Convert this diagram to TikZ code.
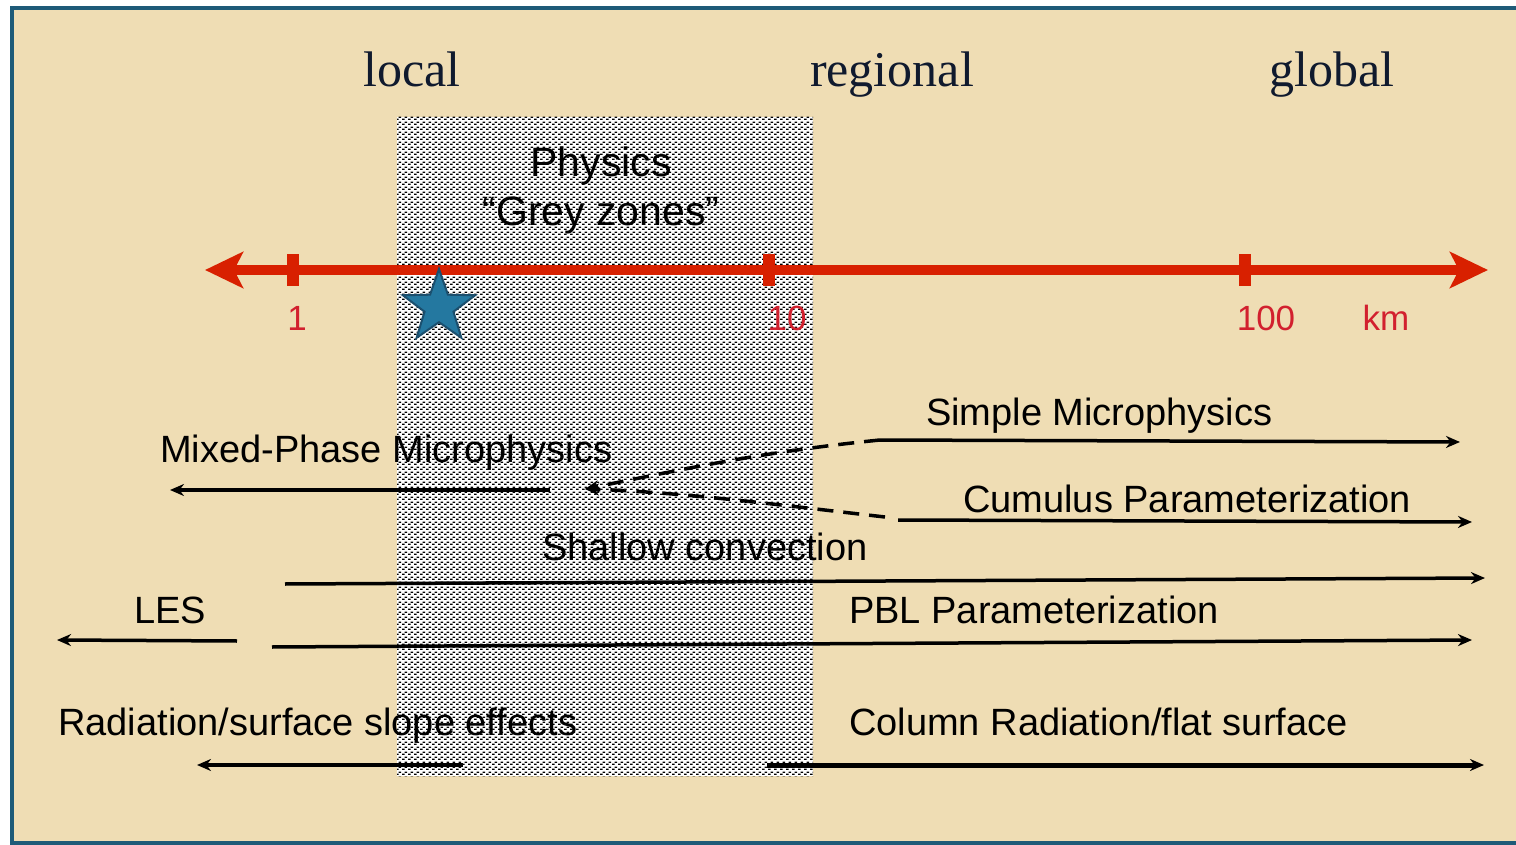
\documentclass[tikz,border=0pt]{standalone}
\usepackage{fontspec}
\setmainfont{Liberation Sans}
\newfontfamily\titleserif{Liberation Serif}
\usetikzlibrary{arrows.meta,shapes.geometric,patterns}
\pgfdeclarepatternformonly{zonedots}{\pgfpointorigin}{\pgfpoint{6pt}{5pt}}{\pgfpoint{6pt}{5pt}}{%
  \pgfpathrectangle{\pgfpoint{0pt}{0pt}}{\pgfpoint{3pt}{1.5pt}}%
  \pgfpathrectangle{\pgfpoint{3pt}{2.5pt}}{\pgfpoint{3pt}{1.5pt}}%
  \pgfusepath{fill}}
\definecolor{parchment}{HTML}{EFDDB4}
\definecolor{frame}{HTML}{1E5B78}
\definecolor{axisred}{HTML}{D82000}
\definecolor{labelred}{HTML}{D2202E}
\definecolor{starblue}{HTML}{2478A0}
\definecolor{stardark}{HTML}{1B4F6E}
\definecolor{navy}{HTML}{101A2E}
\tikzset{
  lbl/.style={font=\fontsize{38}{44}\selectfont, inner sep=0, anchor=base west, text=black},
  numlbl/.style={font=\fontsize{35}{40}\selectfont, text=labelred, inner sep=0, anchor=base},
  scalelbl/.style={font=\titleserif\fontsize{50}{56}\selectfont, text=navy, inner sep=0, anchor=base},
  zonelbl/.style={font=\fontsize{41}{46}\selectfont, text=black, inner sep=0, anchor=base},
  tickmark/.style={fill=axisred, draw=none, minimum width=12pt, minimum height=32pt, inner sep=0},
  axisline/.style={line width=10pt, draw=axisred, {Stealth[length=38pt,width=36pt,inset=9pt]}-{Stealth[length=38pt,width=36pt,inset=9pt]}},
  conn/.style={line width=3.5pt, draw=black, -{Stealth[length=14pt,width=12pt]}},
  dashconn/.style={conn, dash pattern=on 16pt off 10pt},
}
\begin{document}
\begin{tikzpicture}[x=1pt,y=-1pt]
\useasboundingbox (0,0) rectangle (1516,845);
\fill[white] (0,0) rectangle (1516,845);
\fill[parchment] (12,8) rectangle (1516,843);
\draw[frame, line width=4pt] (1516,8) -- (12,8) -- (12,843) -- (1516,843);
% grey zone
\fill[white] (397,117) rectangle (813,776);
\fill[pattern=zonedots, pattern color=black] (397,117) rectangle (813,776);
% scale titles
\node[scalelbl] (local) at (412,87) {local};
\node[scalelbl] (regional) at (892,87) {regional};
\node[scalelbl] (global) at (1332,87) {global};
% zone title
\node[zonelbl] (physics) at (601,177) {Physics};
\node[zonelbl] (grey) at (601,226) {“Grey zones”};
% axis
\coordinate (ltip) at (205,270);
\coordinate (rtip) at (1488,270);
\draw[axisline] (ltip) -- (rtip);
\node[tickmark] (t1) at (293,270) {};
\node[tickmark] (t10) at (769,270) {};
\node[tickmark] (t100) at (1245,270) {};
\node[numlbl] (n1) at (297,330) {1};
\node[numlbl] (n10) at (787,330) {10};
\node[numlbl] (n100) at (1266,330) {100};
\node[numlbl] (km) at (1386,330) {km};
% star
\node[star, star points=5, star point ratio=2.5, minimum size=76pt, inner sep=0, fill=starblue, draw=stardark, line width=2pt] (star) at (439,307) {};
% labels
\node[lbl] (simple) at (926,425) {Simple Microphysics};
\node[lbl] (mixed) at (160,462) {Mixed-Phase Microphysics};
\node[lbl] (cumulus) at (963,512) {Cumulus Parameterization};
\node[lbl] (shallow) at (542,560) {Shallow convection};
\node[lbl] (les) at (134,623) {LES};
\node[lbl] (pbl) at (849,623) {PBL Parameterization};
\node[lbl] (rad) at (58,735) {Radiation/surface slope effects};
\node[lbl] (col) at (849,735) {Column Radiation/flat surface};
% connectors
\coordinate (simpleA) at (880,440);
\coordinate (simpleB) at (1460,442);
\draw[conn] (simpleA) -- (simpleB);
\coordinate (mixedA) at (550,490);
\coordinate (mixedB) at (170,490);
\draw[conn] (mixedA) -- (mixedB);
\coordinate (dashtip) at (585,489);
\coordinate (cumA) at (885,517);
\draw[dashconn] (simpleA) .. controls (760,452) and (680,470) .. (dashtip);
\draw[dashconn] (cumA) .. controls (780,505) and (680,492) .. (dashtip);
\coordinate (cumB) at (898,520);
\coordinate (cumC) at (1472,522);
\draw[conn] (cumB) -- (cumC);
\coordinate (shA) at (285,584);
\coordinate (shB) at (1485,578);
\draw[conn] (shA) -- (shB);
\coordinate (lesA) at (237,641);
\coordinate (lesB) at (57,640);
\draw[conn] (lesA) -- (lesB);
\coordinate (pblA) at (272,647);
\coordinate (pblB) at (1472,640);
\draw[conn] (pblA) -- (pblB);
\coordinate (radA) at (463,765);
\coordinate (radB) at (197,765);
\draw[conn] (radA) -- (radB);
\coordinate (colA) at (767,765);
\coordinate (colB) at (1484,765);
\draw[conn, line width=5pt] (colA) -- (colB);
\end{tikzpicture}
\end{document}
